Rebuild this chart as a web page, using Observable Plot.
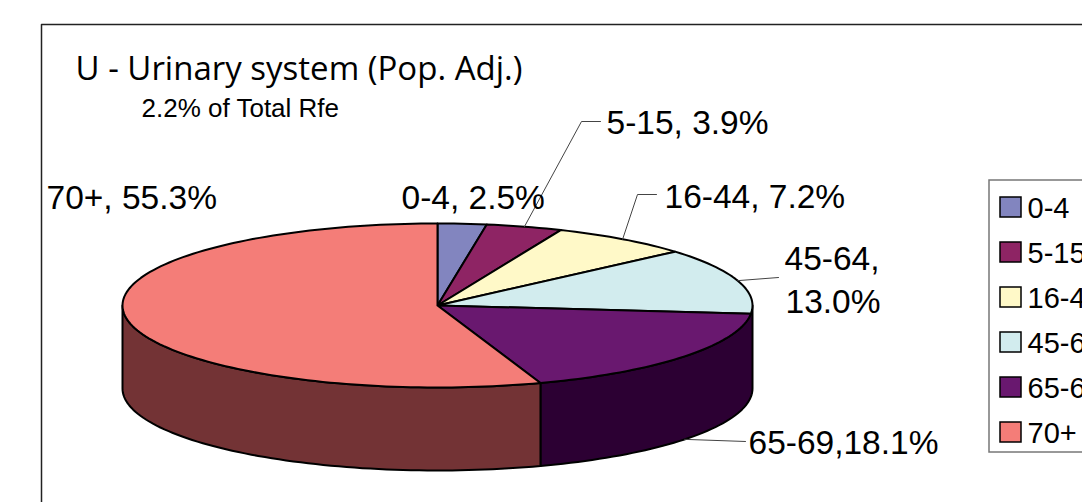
<!DOCTYPE html>
<html>
<head>
<meta charset="utf-8">
<script src="https://cdn.jsdelivr.net/npm/d3@7"></script>
<script src="https://cdn.jsdelivr.net/npm/@observablehq/plot@0.6"></script>
<style>html,body{margin:0;padding:0;background:#fff;overflow:hidden}svg{display:block}</style>
</head>
<body>
<div id="chart"></div>
<script>
// Data
const ages = ["0-4", "5-15", "16-44", "45-64", "65-69", "70+"];
const shares = [2.5, 3.9, 7.2, 13.0, 18.1, 55.3];
const topColors = ["#8285bf", "#8e2464", "#fff9c8", "#d2ecee", "#69186f", "#f47d78"];
const sideColors = ["#41425f", "#471232", "#807c64", "#697677", "#2c0033", "#733335"];
const titleText = "U - Urinary system (Pop. Adj.)";
const subtitleText = "2.2% of Total Rfe";

// Layout
const W = 1082, H = 502;
const pie = {cx: 437, cy: 305, rx: 315, ry: 82, depth: 83};
const sans = "Liberation Sans, Arial, sans-serif";

const rad = (deg) => (deg * Math.PI) / 180;
const at = (deg, drop = 0) => ({
  x: pie.cx + pie.rx * Math.sin(rad(deg)),
  y: pie.cy - pie.ry * Math.cos(rad(deg)) + drop
});
const arc = (a0, a1, drop = 0) => {
  const n = Math.max(2, Math.ceil(Math.abs(a1 - a0) / 1.5));
  return d3.range(n + 1).map((i) => at(a0 + ((a1 - a0) * i) / n, drop));
};

let cum = 0;
const slices = ages.map((age, i) => {
  const a0 = (cum / 100) * 360;
  cum += shares[i];
  const a1 = (cum / 100) * 360;
  return {age, i, a0, a1, mid: (a0 + a1) / 2};
});

const topPoly = (s) => {
  const c = {x: pie.cx, y: pie.cy};
  return [c, ...arc(s.a0, s.a1), c];
};
const sidePoly = (a0, a1) => {
  const upper = arc(a0, a1);
  const lower = arc(a1, a0, pie.depth);
  return [...upper, ...lower, upper[0]];
};

// Labels: text, x, baseline y, leader elbow and end
const labels = [
  {text: "70+, 55.3%", x: 46, y: 208},
  {text: "0-4, 2.5%", x: 401, y: 208},
  {text: "5-15, 3.9%", x: 606, y: 133},
  {text: "16-44, 7.2%", x: 664, y: 207},
  {text: "45-64,", x: 784, y: 269},
  {text: "13.0%", x: 785, y: 312},
  {text: "65-69,18.1%", x: 748, y: 453}
];
const leaders = [
  {slice: 1, drop: 0, path: [{x: 581, y: 121}, {x: 600, y: 121}]},
  {slice: 2, drop: 0, path: [{x: 637, y: 194}, {x: 656, y: 194}]},
  {slice: 3, drop: 0, path: [{x: 778, y: 277}]},
  {slice: 4, drop: pie.depth + 0, path: [{x: 745, y: 441}]}
];

const legendRows = ages.map((age, i) => ({age, color: topColors[i], y1: 197 + i * 45, y2: 217 + i * 45}));

const marks = [];

// Outer frame (runs off the right and bottom edges)
marks.push(Plot.line([{x: 41, y: H + 5}, {x: 41, y: 24}, {x: W + 5, y: 24}], {x: "x", y: "y", stroke: "#222", strokeWidth: 1.5}));

// Side faces
marks.push(Plot.line(sidePoly(90, slices[4].a1), {x: "x", y: "y", fill: sideColors[4], stroke: "#000", strokeWidth: 2, strokeLinejoin: "round"}));
marks.push(Plot.line(sidePoly(slices[5].a0, 270), {x: "x", y: "y", fill: sideColors[5], stroke: "#000", strokeWidth: 2, strokeLinejoin: "round"}));

// Top faces
slices.forEach((s) => {
  marks.push(Plot.line(topPoly(s), {x: "x", y: "y", fill: topColors[s.i], stroke: "#000", strokeWidth: 2, strokeLinejoin: "round"}));
});

// Leader lines, starting at each slice's mid angle
leaders.forEach((l) => {
  const start = at(slices[l.slice].mid, l.drop);
  marks.push(Plot.line([start, ...l.path], {x: "x", y: "y", stroke: "#444", strokeWidth: 1}));
});

// Data labels
marks.push(Plot.text(labels, {x: "x", y: "y", text: "text", textAnchor: "start", lineAnchor: "bottom", fontFamily: sans, fontSize: 33.5, fill: "#000"}));

// Title and subtitle
marks.push(Plot.text([titleText], {x: () => 75, y: () => 79, text: (d) => d, textAnchor: "start", lineAnchor: "bottom", fontFamily: "Open Sans", fontSize: 33, fill: "#000"}));
marks.push(Plot.text([subtitleText], {x: () => 141, y: () => 116, text: (d) => d, textAnchor: "start", lineAnchor: "bottom", fontFamily: sans, fontSize: 26, fill: "#000"}));

// Legend
marks.push(Plot.rect([{}], {x1: () => 989, x2: () => W + 10, y1: () => 180, y2: () => 452, fill: "#fff", stroke: "#777", strokeWidth: 1.5}));
marks.push(Plot.rect(legendRows, {x1: () => 1000, x2: () => 1021, y1: "y1", y2: "y2", fill: "color", stroke: "#000", strokeWidth: 1.5}));
marks.push(Plot.text(legendRows, {x: () => 1027, y: "y2", text: "age", textAnchor: "start", lineAnchor: "bottom", fontFamily: sans, fontSize: 29, fill: "#000"}));

const chart = Plot.plot({
  width: W,
  height: H,
  margin: 0,
  x: {domain: [0, W], range: [0, W], axis: null},
  y: {domain: [0, H], range: [0, H], axis: null},
  color: {type: "identity"},
  style: {background: "#fff", overflow: "hidden"},
  marks
});
document.getElementById("chart").appendChild(chart);
</script>
</body>
</html>
